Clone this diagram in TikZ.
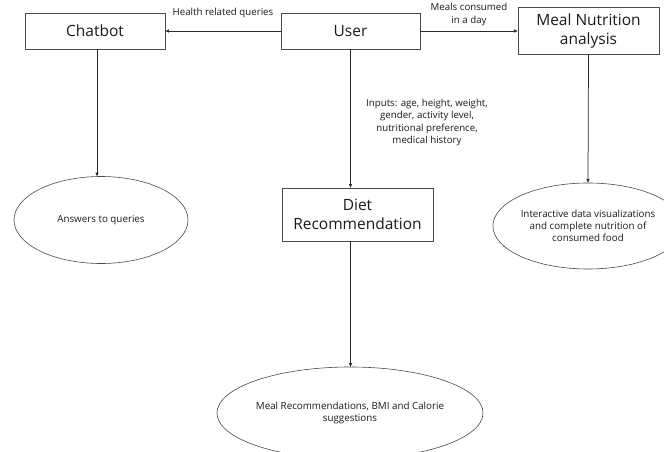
\documentclass[tikz,border=0pt]{standalone}
\usepackage{fontspec}
\setmainfont{Open Sans}
\usetikzlibrary{shapes.geometric,arrows.meta}
\definecolor{edge}{HTML}{4A4A4A}
\definecolor{wire}{HTML}{2A2A2A}
\definecolor{ink}{HTML}{1A1A1A}
\begin{document}
\begin{tikzpicture}[x=1pt,y=-1pt,
  box/.style={draw=edge,line width=0.7pt,fill=white,text=ink,align=center,
    font=\fontsize{15.5}{19}\selectfont,inner sep=0pt},
  result/.style={ellipse,draw=edge,line width=0.6pt,text=ink,align=center,
    font=\fontsize{9.8}{12}\selectfont,inner sep=0pt},
  flow/.style={draw=wire,line width=0.75pt,-{Triangle[length=3.5pt,width=3pt]}},
  tag/.style={text=ink,align=center,font=\fontsize{9.7}{12.4}\selectfont,inner sep=0pt}]
\useasboundingbox (0,0) rectangle (664,452);
\clip (0,0) rectangle (664,452);
\fill[white] (0,0) rectangle (664,452);

% process boxes
\node[box,minimum width=140pt,minimum height=36pt] (chat) at (95,31) {Chatbot};
\node[box,minimum width=139pt,minimum height=36pt] (user) at (350.5,31) {User};
\node[box,minimum width=141pt,minimum height=47pt] (meal) at (588.5,30.5) {Meal Nutrition\\analysis};
\node[box,minimum width=151pt,minimum height=53pt] (diet) at (357.5,214.5) {Diet\\Recommendation};

% outcome ellipses
\node[result,minimum width=174pt,minimum height=87pt] (ans) at (101,220) {Answers to queries};
\node[result,minimum width=172pt,minimum height=86pt] (viz) at (588,226) {Interactive data visualizations\\and complete nutrition of\\consumed food};
\node[result,minimum width=214pt,minimum height=92pt] (rec) at (350,413) {Meal Recommendations, BMI and Calorie\\suggestions};

% connectors
\draw[flow] (user.west) -- (chat.east);
\draw[flow] (user.east) -- (meal.west |- user.east);
\draw[flow] (user.south) -- (user.south |- diet.north);
\draw[flow] (97,49) coordinate (chatfoot) -- (chatfoot |- ans.north);
\draw[flow] (meal.south) -- (viz.north);
\draw[flow] (diet.south -| user.south) coordinate (dietfoot) -- (dietfoot |- rec.north);

% connector labels
\node[tag] (lq) at (223,13) {Health related queries};
\node[tag] (lm) at (469,14.5) {Meals consumed\\in a day};
\node[tag] (li) at (427,122.5) {Inputs: age, height, weight,\\gender, activity level,\\nutritional preference,\\medical history};
\end{tikzpicture}
\end{document}
